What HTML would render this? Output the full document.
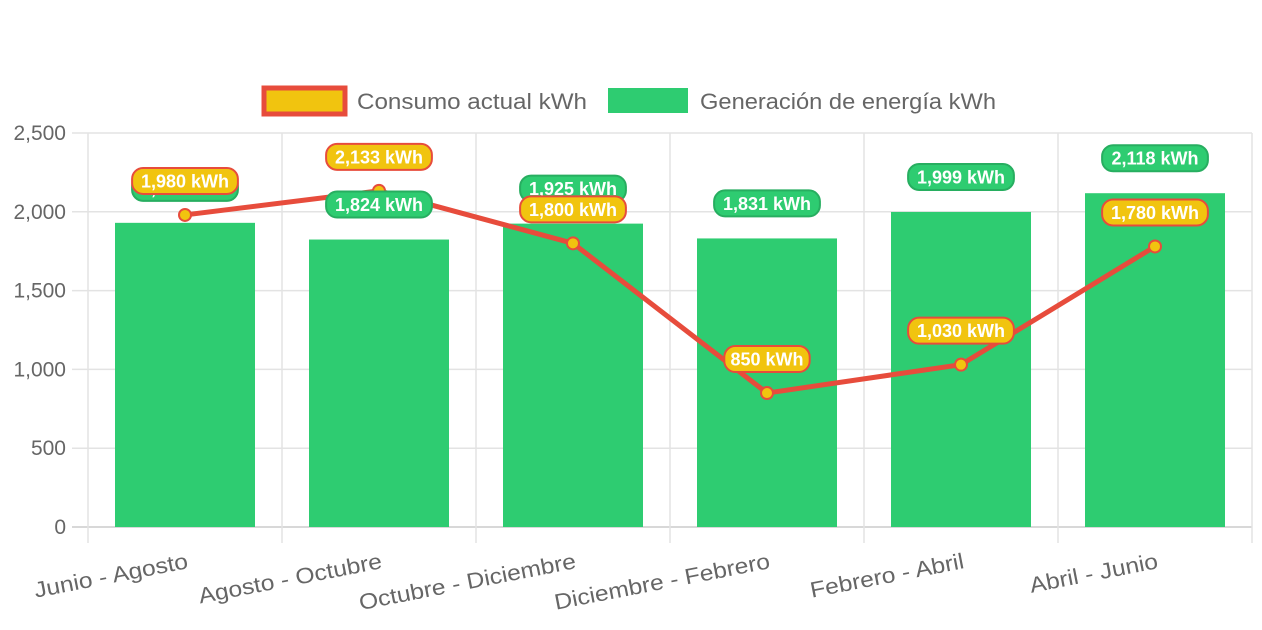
<!DOCTYPE html>
<html><head><meta charset="utf-8"><style>
body{margin:0;background:#fff;}
svg{display:block;font-family:"Liberation Sans",Arial,sans-serif;}
</style></head><body>
<svg id="chart" width="1262" height="630">
<g id="legend">
<g>
<rect x="264" y="88" width="81" height="26" fill="#f1c40f" stroke="#e74c3c" stroke-width="5"/>
<text x="357" y="109" font-size="22" fill="#666" textLength="230" lengthAdjust="spacingAndGlyphs">Consumo actual kWh</text></g>
<g>
<rect x="608" y="88" width="80" height="25" fill="#2ecc71"/>
<text x="700" y="109" font-size="22" fill="#666" textLength="296" lengthAdjust="spacingAndGlyphs">Generación de energía kWh</text></g>
</g>
<g id="grid"></g><g id="bars"></g><g id="line"></g><g id="labels"></g>
</svg>
<script>
const categories=["Junio - Agosto","Agosto - Octubre","Octubre - Diciembre","Diciembre - Febrero","Febrero - Abril","Abril - Junio"];
const generacion=[1930,1824,1925,1831,1999,2118];
const consumo=[1980,2133,1800,850,1030,1780];
const yTicks=[0,500,1000,1500,2000,2500];
const NS="http://www.w3.org/2000/svg";
const x0=88,x1=1252,y0=527,y1=133,ymax=2500;
const bw=(x1-x0)/categories.length;
const Y=v=>y0-(v/ymax)*(y0-y1);
const X=i=>x0+bw*(i+0.5);
function mk(p,t,a){const e=document.createElementNS(NS,t);for(const k in a)e.setAttribute(k,a[k]);p.appendChild(e);return e;}
const fmt=v=>v.toLocaleString('en-US');
const grid=document.getElementById('grid');
yTicks.forEach(v=>{
 const l=mk(grid,'line',{x1:72,x2:x1,y1:Y(v),y2:Y(v),stroke:v===0?'#ccc':'#e3e3e3','stroke-width':1.5});
 
 
 const t=mk(grid,'text',{x:66,y:Y(v)+7,'text-anchor':'end','font-size':21,fill:'#666'});
 t.textContent=fmt(v);
 
 
});
for(let i=0;i<=categories.length;i++){
 const gx=x0+bw*i;
 const l=mk(grid,'line',{x1:gx,x2:gx,y1:y1,y2:543,stroke:'#e3e3e3','stroke-width':1.5});
 
 
}
categories.forEach((c,i)=>{
 const t=mk(grid,'text',{x:0,y:0,'text-anchor':'end','font-size':22,fill:'#666',transform:`translate(${X(i)+4},${568}) rotate(-11)`});
 t.textContent=c;
 
 
 const L=t.getComputedTextLength();
 t.setAttribute('textLength',L*1.12);
 t.setAttribute('lengthAdjust','spacingAndGlyphs');
});
const bars=document.getElementById('bars');
generacion.forEach((v,i)=>{
 const r=mk(bars,'rect',{x:X(i)-70,y:Y(v),width:140,height:y0-Y(v),fill:'#2ecc71'});
 
 
});
const line=document.getElementById('line');
const pl=mk(line,'polyline',{points:consumo.map((v,i)=>X(i)+','+Y(v)).join(' '),fill:'none',stroke:'#e74c3c','stroke-width':5,'stroke-linejoin':'round'});


consumo.forEach((v,i)=>{
 const c=mk(line,'circle',{cx:X(i),cy:Y(v),r:6,fill:'#f1c40f',stroke:'#e74c3c','stroke-width':2});
 
 
});
const labels=document.getElementById('labels');
function label(cx,cy,txt,bg,border,name){
 const g=mk(labels,'g',{});
 
 
 const w=txt.length*10.2+14;
 mk(g,'rect',{x:cx-w/2,y:cy-13,width:w,height:26,rx:11,fill:bg,stroke:border,'stroke-width':2});
 const t=mk(g,'text',{x:cx,y:cy+6.5,'text-anchor':'middle','font-size':18,'font-weight':'bold',fill:'#fff'});
 t.textContent=txt;
}
generacion.forEach((v,i)=>label(X(i),Y(v)-35,fmt(v)+' kWh','#2ecc71','#27ae60','bar-value-label'));
consumo.forEach((v,i)=>label(X(i),Y(v)-34,fmt(v)+' kWh','#f1c40f','#e74c3c','point-value-label'));
</script>
</body></html>
